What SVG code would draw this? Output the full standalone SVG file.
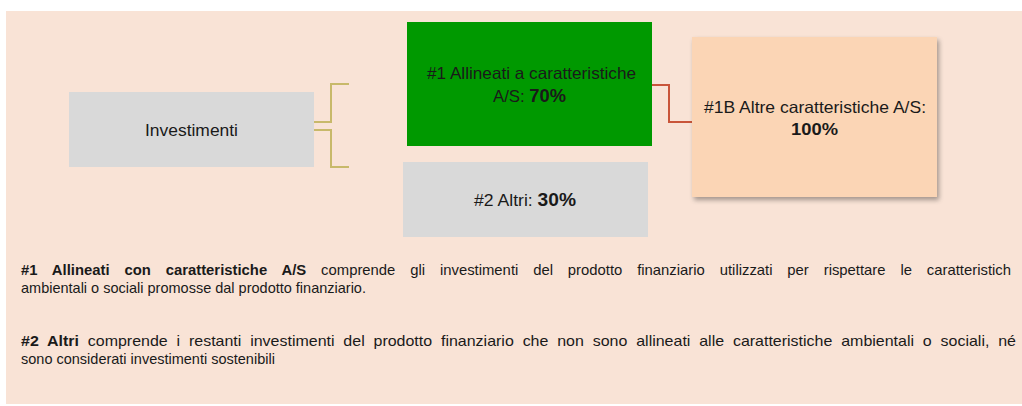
<svg xmlns="http://www.w3.org/2000/svg" width="1022" height="406" viewBox="0 0 1022 406">
<style>
.t{font-family:"Liberation Sans",Arial,sans-serif;fill:#1a1a1a}
.box{font-size:16.5px}
.b{font-weight:bold}
.p{font-size:14.5px}
.conn{fill:none;stroke-width:2}
</style>
<defs>
<filter id="sh" x="-10%" y="-10%" width="125%" height="130%">
<feGaussianBlur in="SourceAlpha" stdDeviation="2.5"/>
<feOffset dx="2" dy="3" result="o"/>
<feComponentTransfer><feFuncA type="linear" slope="0.35"/></feComponentTransfer>
<feMerge><feMergeNode/><feMergeNode in="SourceGraphic"/></feMerge>
</filter>
</defs>
<rect x="0" y="0" width="1022" height="406" fill="#ffffff"/>
<rect x="6" y="11" width="1016" height="393" fill="#f9e3d6"/>
<g id="connectors">
<path class="conn" stroke="#c8b96a" d="M314 122 H331 V84 H349"/>
<path class="conn" stroke="#c8b96a" d="M314 130 H331 V167 H349"/>
<path class="conn" stroke="#c9553a" d="M652 85 H669 V122 H692"/>
</g>
<g id="investimenti">
<rect x="69" y="92" width="245" height="75" fill="#d9d9d9"/>
<text class="t box" x="145" y="136" textLength="93" lengthAdjust="spacingAndGlyphs">Investimenti</text>
</g>
<g id="allineati">
<rect x="407" y="22" width="245" height="124" fill="#009900"/>
<text class="t box" x="427" y="79" textLength="209" lengthAdjust="spacingAndGlyphs">#1 Allineati a caratteristiche</text>
<text class="t box" x="493" y="102" textLength="73" lengthAdjust="spacingAndGlyphs">A/S: <tspan class="b" font-size="18px">70%</tspan></text>
</g>
<g id="altri">
<rect x="403" y="162" width="245" height="75" fill="#d9d9d9"/>
<text class="t box" x="474" y="206" textLength="102" lengthAdjust="spacingAndGlyphs">#2 Altri: <tspan class="b" font-size="18px">30%</tspan></text>
</g>
<g id="altre">
<rect x="692" y="37" width="245" height="160" fill="#fbd5b5" filter="url(#sh)"/>
<text class="t box" x="704" y="113" textLength="222" lengthAdjust="spacingAndGlyphs">#1B Altre caratteristiche A/S:</text>
<text class="t box b" x="791" y="135" font-size="18px" textLength="47" lengthAdjust="spacingAndGlyphs">100%</text>
</g>
<g id="legend">
<text class="t p" x="21" y="275" word-spacing="10.5" textLength="990" lengthAdjust="spacingAndGlyphs"><tspan class="b">#1 Allineati con caratteristiche A/S</tspan> comprende gli investimenti del prodotto finanziario utilizzati per rispettare le caratteristich</text>
<text class="t p" x="21" y="293">ambientali o sociali promosse dal prodotto finanziario.</text>
<text class="t p" x="21" y="346" word-spacing="4" textLength="995" lengthAdjust="spacingAndGlyphs"><tspan class="b">#2 Altri</tspan> comprende i restanti investimenti del prodotto finanziario che non sono allineati alle caratteristiche ambientali o sociali, né</text>
<text class="t p" x="21" y="364">sono considerati investimenti sostenibili</text>
</g>
</svg>
